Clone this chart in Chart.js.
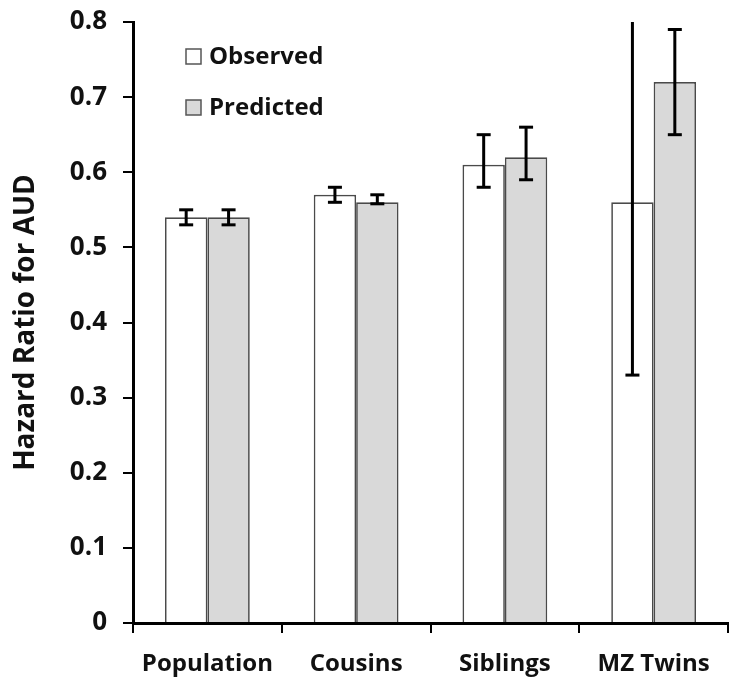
<!DOCTYPE html>
<html>
<head>
<meta charset="utf-8">
<script src="https://cdn.jsdelivr.net/npm/chart.js@4.4.0/dist/chart.umd.min.js"></script>
<style>
    html, body { margin: 0; padding: 0; background: #fff; }
    #wrap { width: 731px; height: 682px; }
</style>
</head>
<body>
<div id="wrap"><canvas id="grafico"></canvas></div>
<script>
// datos
const categorias = ["Population", "Cousins", "Siblings", "MZ Twins"];
const observado = [0.54, 0.57, 0.61, 0.56];
const observadoMin = [0.53, 0.56, 0.58, 0.33];
const observadoMax = [0.55, 0.58, 0.65, 0.8];
const predicho = [0.54, 0.56, 0.62, 0.72];
const predichoMin = [0.53, 0.558, 0.59, 0.65];
const predichoMax = [0.55, 0.57, 0.66, 0.79];
const yTicks = ["0", "0.1", "0.2", "0.3", "0.4", "0.5", "0.6", "0.7", "0.8"];

const fuente = "'Open Sans', 'Liberation Sans', sans-serif";

// barras de error (sin tope si se salen del eje)
const errorBars = {
    id: "errorBars",
    afterDatasetsDraw(chart) {
        const ctx = chart.ctx;
        const y = chart.scales.y;
        const rangos = [[observadoMin, observadoMax], [predichoMin, predichoMax]];
        ctx.save();
        ctx.strokeStyle = "#000";
        ctx.lineWidth = 3;
        rangos.forEach((r, i) => {
            chart.getDatasetMeta(i).data.forEach((bar, j) => {
                const x = bar.x;
                const yLo = y.getPixelForValue(r[0][j]);
                const yHi = y.getPixelForValue(r[1][j]);
                ctx.beginPath();
                ctx.moveTo(x, yLo);
                ctx.lineTo(x, yHi);
                ctx.stroke();
                [[r[0][j], yLo], [r[1][j], yHi]].forEach(([v, py]) => {
                    if (v >= y.max) return;
                    ctx.beginPath();
                    ctx.moveTo(x - 7, py);
                    ctx.lineTo(x + 7, py);
                    ctx.stroke();
                });
            });
        });
        ctx.restore();
    }
};

// leyenda dentro del area del grafico
const leyenda = {
    id: "leyenda",
    afterDraw(chart) {
        const ctx = chart.ctx;
        ctx.save();
        ctx.font = "bold 24px " + fuente;
        ctx.textBaseline = "middle";
        chart.data.datasets.forEach((ds, i) => {
            const top = 49 + i * 51;
            ctx.fillStyle = ds.backgroundColor;
            ctx.fillRect(186, top, 15, 15);
            ctx.strokeStyle = "#555";
            ctx.lineWidth = 1.5;
            ctx.strokeRect(186, top, 15, 15);
            ctx.fillStyle = "#111";
            ctx.fillText(ds.label, 209, top + 8);
        });
        ctx.restore();
    }
};

new Chart(document.getElementById("grafico"), {
    type: "bar",
    data: {
        labels: categorias,
        datasets: [
            {
                label: "Observed",
                data: observado,
                backgroundColor: "#ffffff",
                borderColor: "#4a4a4a",
                borderWidth: 1.7
            },
            {
                label: "Predicted",
                data: predicho,
                backgroundColor: "#d9d9d9",
                borderColor: "#4a4a4a",
                borderWidth: 1.7
            }
        ]
    },
    options: {
        responsive: true,
        maintainAspectRatio: false,
        animation: false,
        devicePixelRatio: 1,
        layout: { padding: { top: 22, right: 3, left: 0, bottom: 0 } },
        datasets: { bar: { categoryPercentage: 0.57, barPercentage: 1.0 } },
        plugins: {
            legend: { display: false },
            tooltip: { enabled: false }
        },
        scales: {
            x: {
                border: { display: true, color: "#000", width: 3 },
                grid: { display: true, drawOnChartArea: false, drawTicks: true, tickLength: 10, color: "#000", lineWidth: 2, offset: true },
                ticks: { color: "#111", font: { family: fuente, size: 24, weight: "bold" }, padding: 17 },
                afterFit(scale) { scale.height = 59; }
            },
            y: {
                min: 0,
                max: 0.8,
                border: { display: true, color: "#000", width: 3 },
                grid: { display: true, drawOnChartArea: false, drawTicks: true, tickLength: 10, color: "#000", lineWidth: 2 },
                ticks: {
                    stepSize: 0.1,
                    color: "#111",
                    padding: 16,
                    font: { family: fuente, size: 26, weight: "bold" },
                    callback: (v, i) => yTicks[i]
                },
                title: {
                    display: true,
                    text: "Hazard Ratio for AUD",
                    color: "#111",
                    font: { family: fuente, size: 28, weight: "bold" },
                    padding: { top: 9, bottom: 0 }
                },
                afterFit(scale) {
                    scale.width = 133;
                    scale.paddingTop = 0;
                    scale.paddingBottom = 0;
                }
            }
        }
    },
    plugins: [errorBars, leyenda]
});
</script>
</body>
</html>
